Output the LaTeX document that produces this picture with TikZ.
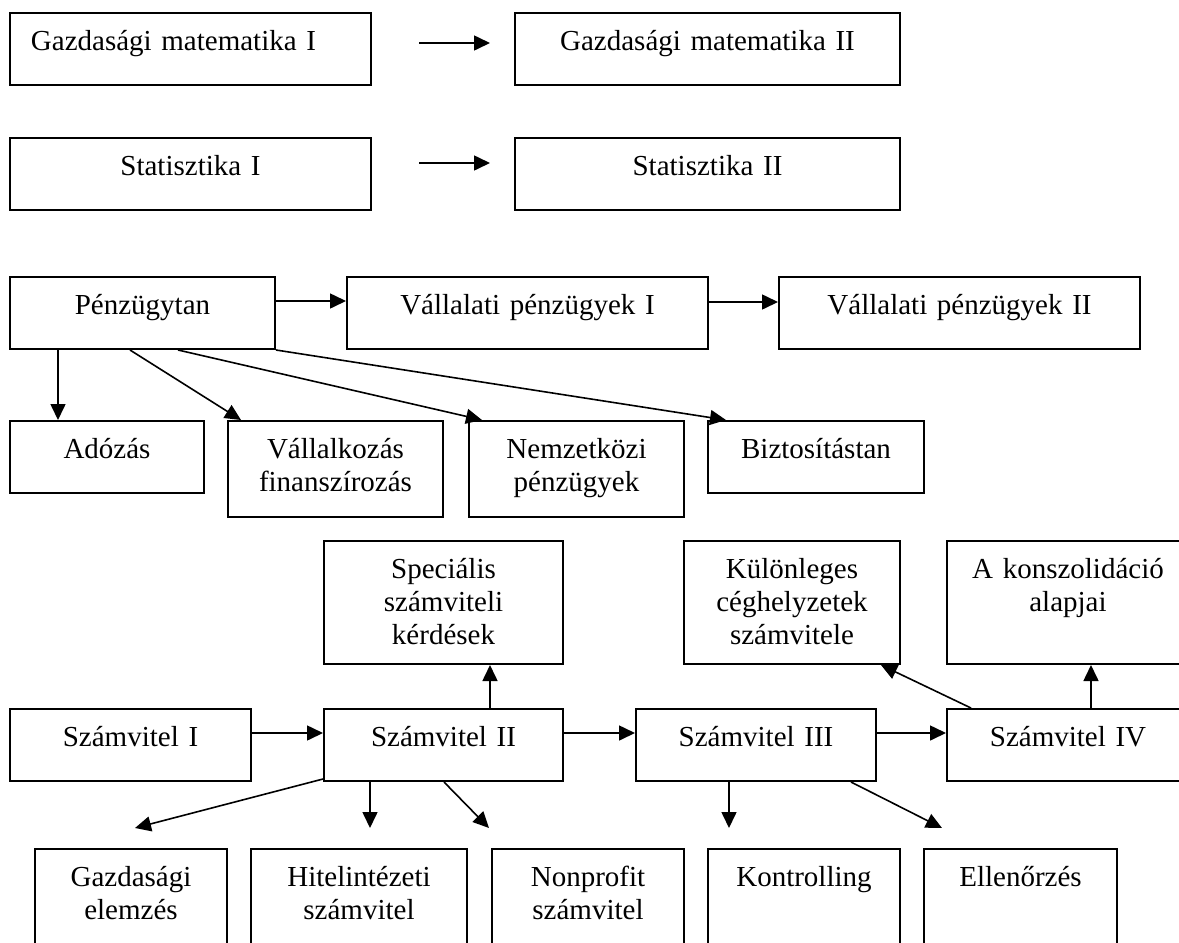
\documentclass[tikz,border=0pt]{standalone}
\usepackage{fontspec}
\setmainfont{Liberation Serif}
\usetikzlibrary{arrows.meta}

\tikzset{
  course/.style 2 args={draw, line width=1pt, inner sep=0pt, anchor=north west, align=center,
    minimum width=#1, text width=#1, minimum height=#2, text height=18.5pt, text depth={#2-18.5pt}},
  arr/.style={line width=0.8pt, -{Triangle[length=8pt,width=7.5pt]}}
}

\begin{document}
\begin{tikzpicture}[x=0.5pt,y=-0.5pt,font=\fontsize{14.5}{16.5}\selectfont]
\useasboundingbox (0,0) rectangle (1179,943);
\clip (0,0) rectangle (1179,943);
% first two rows
\node[course={180.5pt}{36pt}] (gm1) at (9,12) {\hspace*{-17pt}Gazdasági matematika I};
\node[course={192.5pt}{36pt}] (gm2) at (514,12) {Gazdasági matematika II};
\node[course={180.5pt}{36pt}] (st1) at (9,137) {Statisztika I};
\node[course={192.5pt}{36pt}] (st2) at (514,137) {Statisztika II};
\draw[arr] ([shift={(47,-6)}]gm1.east) -- ([shift={(-24,-6)}]gm2.west);
\draw[arr] ([shift={(47,-11)}]st1.east) -- ([shift={(-24,-11)}]st2.west);
% finance
\node[course={132.5pt}{36pt}] (pz) at (9,276) {Pénzügytan};
\node[course={180.5pt}{36pt}] (vp1) at (346,276) {Vállalati pénzügyek I};
\node[course={180.5pt}{36pt}] (vp2) at (778,276) {Vállalati pénzügyek II};
\node[course={97pt}{36pt}] (ado) at (9,420) {Adózás};
\node[course={107.5pt}{48pt}] (vfin) at (227,420) {Vállalkozás\\finanszírozás};
\node[course={107.5pt}{48pt}] (nemz) at (468,420) {Nemzetközi\\pénzügyek};
\node[course={108pt}{36pt}] (bizt) at (707,420) {Biztosítástan};
\draw[arr] ([shift={(0,-12)}]pz.east) -- ([shift={(0,-12)}]vp1.west);
\draw[arr] ([shift={(0,-11)}]vp1.east) -- ([shift={(0,-11)}]vp2.west);
\draw[arr] ([xshift=24.5pt]pz.south west) -- ([xshift=24.5pt]ado.north west);
\draw[arr] ([xshift=60.5pt]pz.south west) -- ([xshift=7pt]vfin.north west);
\draw[arr] ([xshift=84.5pt]pz.south west) -- ([xshift=7pt]nemz.north west);
\draw[arr] (pz.south east) -- ([xshift=9.5pt]bizt.north west);
% accounting
\node[course={119.5pt}{61.5pt}] (spec) at (323,540) {Speciális\\számviteli\\kérdések};
\node[course={108pt}{61.5pt}] (kul) at (683,540) {Különleges\\céghelyzetek\\számvitele};
\node[course={121pt}{61.5pt}] (kons) at (946,540) {A konszolidáció\\alapjai};
\node[course={120.5pt}{36pt}] (sz1) at (9,708) {Számvitel I};
\node[course={119.5pt}{36pt}] (sz2) at (323,708) {Számvitel II};
\node[course={120pt}{36pt}] (sz3) at (635,708) {Számvitel III};
\node[course={121pt}{36pt}] (sz4) at (946,708) {Számvitel IV};
\node[course={96pt}{56pt}] (gel) at (34,848) {Gazdasági\\elemzés};
\node[course={108pt}{56pt}] (hit) at (250,848) {Hitelintézeti\\számvitel};
\node[course={96pt}{56pt}] (nonp) at (491,848) {Nonprofit\\számvitel};
\node[course={96pt}{56pt}] (kont) at (707,848) {Kontrolling};
\node[course={96.5pt}{56pt}] (ell) at (923,848) {Ellenőrzés};
\draw[arr] ([shift={(0,-12)}]sz1.east) -- ([shift={(0,-12)}]sz2.west);
\draw[arr] ([shift={(0,-12)}]sz2.east) -- ([shift={(0,-12)}]sz3.west);
\draw[arr] ([shift={(0,-12)}]sz3.east) -- ([shift={(0,-12)}]sz4.west);
\draw[arr] ([xshift=83.5pt]sz2.north west) -- ([xshift=83.5pt]spec.south west);
\draw[arr] ([xshift=12.5pt]sz4.north west) -- ([xshift=-10pt]kul.south east);
\draw[arr] ([xshift=72.5pt]sz4.north west) -- ([xshift=72.5pt]kons.south west);
\draw[arr] ([shift={(0,-3)}]sz2.south west) -- ([shift={(101,-20)}]gel.north west);
\draw[arr] ([xshift=23.5pt]sz2.south west) -- ([shift={(120,-20)}]hit.north west);
\draw[arr] ([xshift=60.5pt]sz2.south west) -- ([shift={(-2,-20)}]nonp.north west);
\draw[arr] ([xshift=47pt]sz3.south west) -- ([shift={(22,-20)}]kont.north west);
\draw[arr] ([xshift=108pt]sz3.south west) -- ([shift={(19,-20)}]ell.north west);
\end{tikzpicture}
\end{document}
